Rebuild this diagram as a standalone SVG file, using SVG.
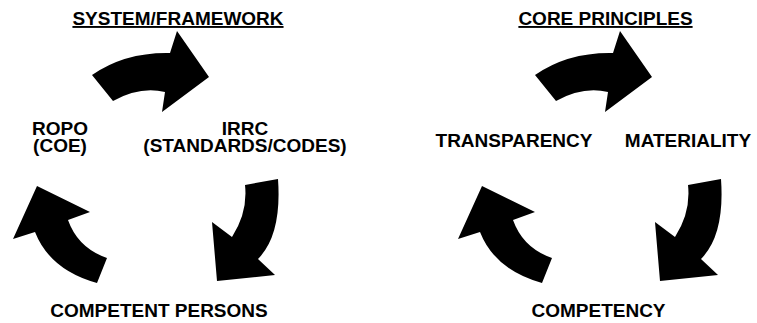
<svg xmlns="http://www.w3.org/2000/svg" xmlns:xlink="http://www.w3.org/1999/xlink" width="757" height="323" viewBox="0 0 757 323">
  <style>
    .lbl { font-family: "Liberation Sans", Arial, sans-serif; font-weight: bold; font-size: 19px; fill: #000; text-anchor: middle; }
    .title { text-decoration: underline; }
    .arrow { fill: #000; stroke: none; }
  </style>
  <defs>
    <!-- curved block arrows: top (rightward), right (downward), left (upward) -->
    <path id="arrTop" class="arrow" d="M 92,75 Q 125,52 170,53 L 177,31 L 209,77 L 162,112 L 165,92 Q 140,86 113,101 Z"/>
    <path id="arrRight" class="arrow" d="M 245,185 L 278,179 Q 282,235 258,259 L 275,275 L 217,281 L 212,222 L 232,237 Q 248,212 245,185 Z"/>
    <path id="arrLeft" class="arrow" d="M 107,258 L 97,283 Q 50,270 35,232 L 13,239 L 37,186 L 90,212 L 68,220 Q 78,248 107,258 Z"/>
  </defs>
  <rect width="757" height="323" fill="#fff"/>

  <g id="connectors">
    <use xlink:href="#arrTop"/>
    <use xlink:href="#arrRight"/>
    <use xlink:href="#arrLeft"/>
    <use xlink:href="#arrTop" transform="translate(443,0)"/>
    <use xlink:href="#arrRight" transform="translate(443,0)"/>
    <use xlink:href="#arrLeft" transform="translate(445,0)"/>
  </g>

  <!-- left cycle -->
  <g id="title-system">
    <text class="lbl title" x="178" y="25">SYSTEM/FRAMEWORK</text>
  </g>
  <g id="node-ropo">
    <text class="lbl" x="60" y="135">ROPO</text>
    <text class="lbl" x="60" y="152">(COE)</text>
  </g>
  <g id="node-irrc">
    <text class="lbl" x="245" y="135">IRRC</text>
    <text class="lbl" x="245" y="152">(STANDARDS/CODES)</text>
  </g>
  <g id="node-competent-persons">
    <text class="lbl" x="159" y="317">COMPETENT PERSONS</text>
  </g>

  <!-- right cycle -->
  <g id="title-core">
    <text class="lbl title" x="605.5" y="25">CORE PRINCIPLES</text>
  </g>
  <g id="node-transparency">
    <text class="lbl" x="514" y="147">TRANSPARENCY</text>
  </g>
  <g id="node-materiality">
    <text class="lbl" x="688" y="147">MATERIALITY</text>
  </g>
  <g id="node-competency">
    <text class="lbl" x="598.5" y="317">COMPETENCY</text>
  </g>
</svg>
